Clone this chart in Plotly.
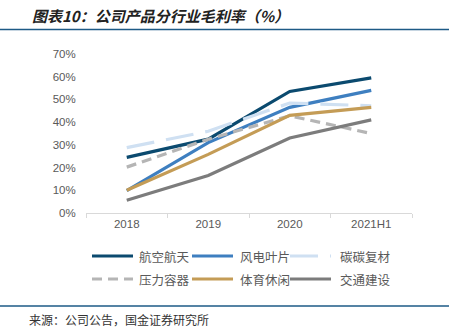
import plotly.graph_objects as go

years = ["2018", "2019", "2020", "2021H1"]

aerospace = [0.245, 0.325, 0.535, 0.595]
wind_blade = [0.099, 0.31, 0.465, 0.54]
cc_composite = [0.288, 0.36, 0.484, 0.472]
pressure_vessel = [0.202, 0.325, 0.428, 0.35]
sports_leisure = [0.10, 0.258, 0.43, 0.465]
transport = [0.056, 0.165, 0.33, 0.41]

series = [
    ("航空航天", aerospace, "#0b4a6f", "solid"),
    ("风电叶片", wind_blade, "#3e7fc0", "solid"),
    ("碳碳复材", cc_composite, "#cfe0f2", "28px,12px"),
    ("压力容器", pressure_vessel, "#b5b5b5", "10px,6px"),
    ("体育休闲", sports_leisure, "#c49c56", "solid"),
    ("交通建设", transport, "#7c7c7c", "solid"),
]

# plot area in pixels
L, R, T, B = 86, 412, 54, 213
W, H = R - L, B - T


def px_x(p):
    return (p - L) / W


def px_y(p):
    return (B - p) / H


fig = go.Figure()
for name, vals, color, dash in series:
    fig.add_trace(go.Scatter(
        x=years, y=vals, name=name, mode="lines",
        line=dict(color=color, width=3.2, dash=dash),
    ))

fig.update_layout(
    width=451, height=328,
    margin=dict(l=L, r=451 - R, t=T, b=328 - B),
    paper_bgcolor="white", plot_bgcolor="white",
    font=dict(family="Noto Sans CJK SC, Liberation Sans, sans-serif", color="#595959"),
    showlegend=False,
    xaxis=dict(
        type="category", range=[-0.5, 3.5],
        showline=True, linecolor="#d9d9d9", linewidth=1,
        ticks="outside", tickson="boundaries", ticklen=4, tickcolor="#d9d9d9",
        showgrid=False, tickfont=dict(family="Liberation Sans, Arial, sans-serif", size=11.5, color="#595959"),
        fixedrange=True,
    ),
    yaxis=dict(
        range=[0, 0.7], tickformat=".0%", dtick=0.1,
        showgrid=False, zeroline=False, showline=False,
        ticks="outside", ticklen=7, tickcolor="rgba(0,0,0,0)",
        tickfont=dict(family="Liberation Sans, Arial, sans-serif", size=11.5, color="#595959"),
        fixedrange=True,
    ),
)

# legend: two rows of three entries
col_x = [92, 192, 290]
row_y = [256, 279]
text_x = [137, 238, 338]
for i, (name, vals, color, dash) in enumerate(series):
    r, c = divmod(i, 3)
    x0 = col_x[c]
    x1 = x0 + 41
    fig.add_shape(type="line", xref="paper", yref="paper",
                  x0=px_x(x0), x1=px_x(x1), y0=px_y(row_y[r]), y1=px_y(row_y[r]),
                  line=dict(color=color, width=3.2, dash=dash))
    fig.add_annotation(text=name, xref="paper", yref="paper",
                       x=px_x(text_x[c]), y=px_y(row_y[r]),
                       xanchor="left", yanchor="middle", showarrow=False,
                       font=dict(family="Noto Sans CJK SC", size=12.5, color="#595959"))

# header title and rule
fig.add_annotation(
    text="<b><i>图表10：公司产品分行业毛利率（%）</i></b>",
    xref="paper", yref="paper", x=px_x(30), y=px_y(15),
    xanchor="left", yanchor="middle", showarrow=False,
    font=dict(family="Noto Sans CJK SC", size=15, color="#222222"),
)
fig.add_shape(type="line", xref="paper", yref="paper",
              x0=px_x(0), x1=px_x(449), y0=px_y(29.5), y1=px_y(29.5),
              line=dict(color="#1d5a86", width=1.5))

# footer rule and source note
fig.add_shape(type="line", xref="paper", yref="paper",
              x0=px_x(0), x1=px_x(449), y0=px_y(306), y1=px_y(306),
              line=dict(color="#1d5a86", width=1.5))
fig.add_annotation(
    text="来源：公司公告，国金证券研究所",
    xref="paper", yref="paper", x=px_x(27), y=px_y(319),
    xanchor="left", yanchor="middle", showarrow=False,
    font=dict(family="Noto Sans CJK SC", size=12, color="#333333"),
)

fig.write_html("out.html")
